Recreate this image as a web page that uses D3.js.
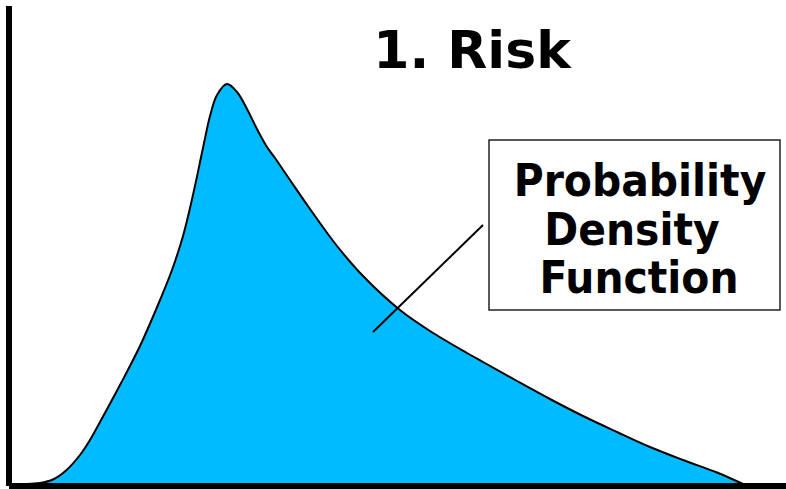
<!DOCTYPE html>
<html>
<head>
<meta charset="utf-8">
<script src="https://cdn.jsdelivr.net/npm/d3@7"></script>
<style>
  html, body { margin: 0; padding: 0; background: #fff; }
  svg { display: block; }
</style>
</head>
<body>
<script>
// Skewed probability density, sampled along the outcome axis
const outcome = [0, 0.182, 0.363, 0.545, 0.740, 0.880, 1.020, 1.299, 1.578, 1.858, 2.025,
  2.179, 2.318, 2.458, 2.556, 2.654, 2.793, 2.933, 3.073, 3.212, 3.352, 3.464, 3.673,
  3.953, 4.330, 4.693, 5.209, 5.628, 6.145, 6.369, 6.844, 7.304, 7.765, 8.240, 8.701,
  9.162, 9.637, 10];
const density = [0, 0.0025, 0.01125, 0.03375, 0.0725, 0.11, 0.155, 0.2475, 0.345, 0.46,
  0.535, 0.62, 0.7225, 0.84, 0.92, 0.9725, 1.0, 0.98, 0.9375, 0.8875, 0.8425, 0.815,
  0.76, 0.6875, 0.595, 0.52, 0.435, 0.3825, 0.3275, 0.305, 0.2575, 0.2125, 0.17, 0.13,
  0.0925, 0.06, 0.02875, 0];

const titleText = "1. Risk";
const labelLines = ["Probability", "Density", "Function"];

const W = 786, H = 489;
const svg = d3.select("body").append("svg").attr("width", W).attr("height", H);

const x = d3.scaleLinear().domain([0, 10]).range([27, 743]);
const y = d3.scaleLinear().domain([0, 1]).range([484, 84]);

const pts = outcome.map((v, i) => [v, density[i]]);
const curve = d3.curveCatmullRom.alpha(0.5);

// filled density
svg.append("path")
  .datum(pts)
  .attr("fill", "#00BBFF")
  .attr("d", d3.area().x(d => x(d[0])).y0(y(0)).y1(d => y(d[1])).curve(curve));

svg.append("path")
  .datum(pts)
  .attr("fill", "none")
  .attr("stroke", "#000")
  .attr("stroke-width", 2)
  .attr("stroke-linejoin", "round")
  .attr("d", d3.line().x(d => x(d[0])).y(d => y(d[1])).curve(curve));

// axes: plain heavy bars, no ticks
svg.append("rect").attr("x", 6).attr("y", 6).attr("width", 6).attr("height", 480).attr("fill", "#000");
svg.append("rect").attr("x", 9).attr("y", 483).attr("width", W - 9).attr("height", 6).attr("fill", "#000");

// title
svg.append("text")
  .attr("x", 472).attr("y", 68)
  .attr("text-anchor", "middle")
  .attr("font-family", "DejaVu Sans, Verdana, sans-serif")
  .attr("font-weight", "bold")
  .attr("font-size", 52)
  .attr("fill", "#000")
  .text(titleText);

// callout leader line
svg.append("line")
  .attr("x1", 373).attr("y1", 332).attr("x2", 483).attr("y2", 225)
  .attr("stroke", "#000").attr("stroke-width", 2);

// callout box
svg.append("rect")
  .attr("x", 489).attr("y", 140).attr("width", 291).attr("height", 170)
  .attr("fill", "#fff").attr("stroke", "#222").attr("stroke-width", 1.5);

const lineX = [640, 632, 639];
const lineY = [196, 245, 293];
labelLines.forEach((t, i) => {
  svg.append("g")
    .attr("transform", `translate(${lineX[i]},${lineY[i]}) scale(0.93,1)`)
    .append("text")
    .attr("text-anchor", "middle")
    .attr("font-family", "DejaVu Sans, Verdana, sans-serif")
    .attr("font-weight", "bold")
    .attr("font-size", 44)
    .attr("fill", "#000")
    .text(t);
});
</script>
</body>
</html>
